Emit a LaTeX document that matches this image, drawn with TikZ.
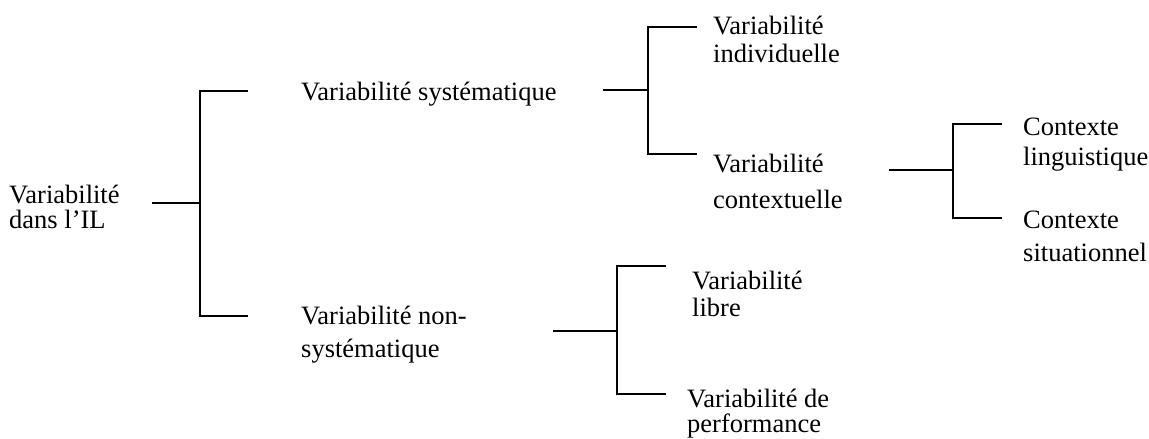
\documentclass[tikz,border=0pt]{standalone}
\usepackage{fontspec}
\setmainfont{Liberation Serif}

\begin{document}
\begin{tikzpicture}[x=1pt, y=-1pt]
    % Define styles
    \tikzstyle{term} = [anchor=base west, inner sep=0pt, align=left, font=\fontsize{26.5}{25}\selectfont]
    \tikzstyle{bracket} = [line width=2.8pt, line join=miter]

    \useasboundingbox (0,0) rectangle (1149,439);

    % Nodes (anchored at the baseline of the last line)
    \node[term] (root) at (9,228) {Variabilité\\dans l’IL};
    \node[term] (sys) at (301,100) {Variabilité systématique};
    \node[term] (nonsys) at (301,357) {Variabilité non-\\[8pt]systématique};
    \node[term] (indiv) at (713,62) {Variabilité\\[3pt]individuelle};
    \node[term] (context) at (713,208) {Variabilité\\[11pt]contextuelle};
    \node[term] (ling) at (1023,165) {Contexte\\[5pt]linguistique};
    \node[term] (situ) at (1023,261) {Contexte\\[8pt]situationnel};
    \node[term] (libre) at (692,316) {Variabilité\\[2pt]libre};
    \node[term] (perf) at (687,432) {Variabilité de\\performance};

    % Bracket points
    \coordinate (root-s) at (152,203);
    \coordinate (root-j) at (200,203);
    \coordinate (root-t) at (248,91);
    \coordinate (root-b) at (248,316);
    \coordinate (sys-s) at (603,90);
    \coordinate (sys-j) at (648,90);
    \coordinate (sys-t) at (697,27);
    \coordinate (sys-b) at (697,154);
    \coordinate (context-s) at (889,170);
    \coordinate (context-j) at (953,170);
    \coordinate (context-t) at (1002,124);
    \coordinate (context-b) at (1002,218);
    \coordinate (nonsys-s) at (553,331);
    \coordinate (nonsys-j) at (617,331);
    \coordinate (nonsys-t) at (666,266);
    \coordinate (nonsys-b) at (666,394);

    % Brackets
    \draw[bracket] (root-s) -- (root-j);
    \draw[bracket] (root-t) -| (root-j) |- (root-b);
    \draw[bracket] (sys-s) -- (sys-j);
    \draw[bracket] (sys-t) -| (sys-j) |- (sys-b);
    \draw[bracket] (context-s) -- (context-j);
    \draw[bracket] (context-t) -| (context-j) |- (context-b);
    \draw[bracket] (nonsys-s) -- (nonsys-j);
    \draw[bracket] (nonsys-t) -| (nonsys-j) |- (nonsys-b);
\end{tikzpicture}
\end{document}
